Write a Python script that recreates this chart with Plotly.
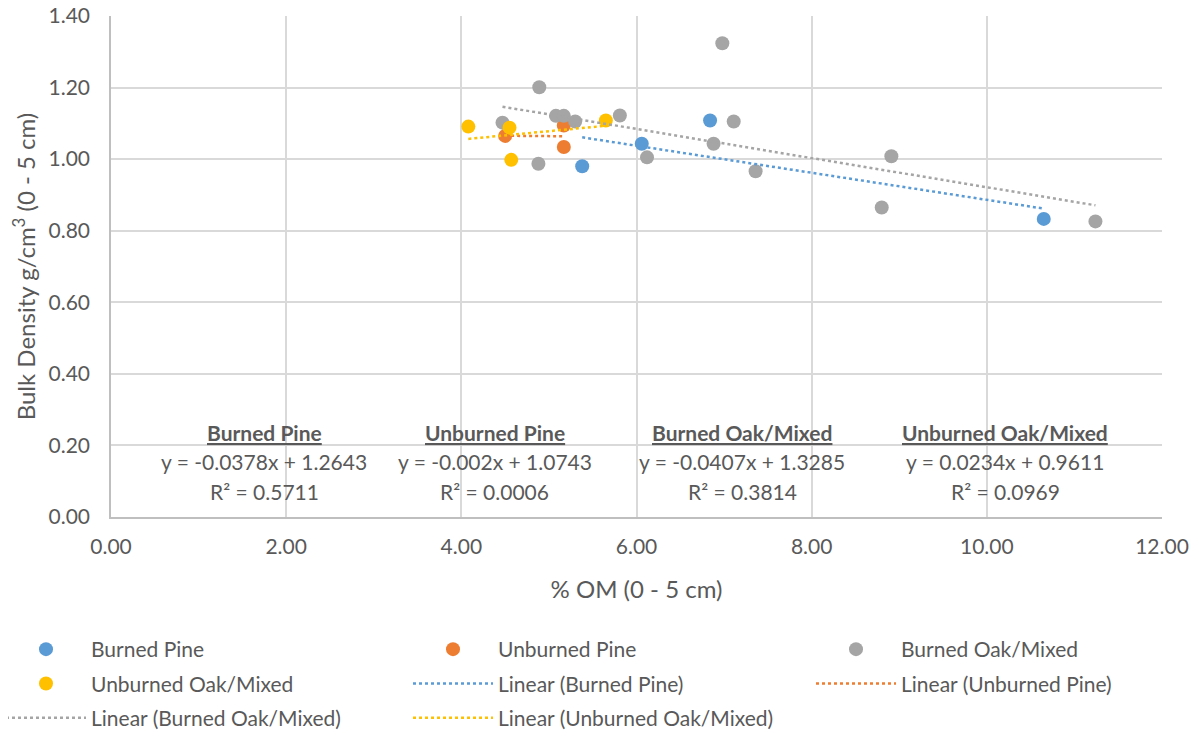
import plotly.graph_objects as go

series_names = ["Burned Pine", "Unburned Pine", "Burned Oak/Mixed", "Unburned Oak/Mixed"]
colors = ["#5B9BD5", "#ED7D31", "#A5A5A5", "#FFC000"]

bp_x = [5.38, 6.06, 6.84, 10.65]
bp_y = [0.980, 1.043, 1.108, 0.833]
up_x = [4.50, 5.17, 5.17]
up_y = [1.065, 1.094, 1.034]
bom_x = [4.89, 4.47, 5.08, 5.17, 5.30, 5.81, 4.88, 6.12, 6.98, 7.11, 6.88, 7.36, 8.91, 8.80, 11.24]
bom_y = [1.201, 1.102, 1.121, 1.121, 1.105, 1.122, 0.987, 1.005, 1.324, 1.105, 1.043, 0.966, 1.008, 0.865, 0.826]
uom_x = [4.08, 4.55, 4.57, 5.65]
uom_y = [1.091, 1.088, 0.998, 1.108]

slopes = [-0.0378, -0.002, -0.0407, 0.0234]
intercepts = [1.2643, 1.0743, 1.3285, 0.9611]
eq_labels = ["y = -0.0378x + 1.2643", "y = -0.002x + 1.0743", "y = -0.0407x + 1.3285", "y = 0.0234x + 0.9611"]
r2_labels = ["R² = 0.5711", "R² = 0.0006", "R² = 0.3814", "R² = 0.0969"]
label_x = [1.75, 4.38, 7.21, 10.21]

xs = [bp_x, up_x, bom_x, uom_x]
ys = [bp_y, up_y, bom_y, uom_y]

FONT = "Lato"
TXT = "#595959"

# legend column for each entry (3 columns, Excel-like row-major order)
marker_legend = ["legend", "legend2", "legend3", "legend"]
marker_rank = [1, 1, 1, 2]
line_legend = ["legend2", "legend3", "legend", "legend2"]
line_rank = [2, 2, 3, 3]

fig = go.Figure()
for i in range(4):
    fig.add_trace(go.Scatter(x=xs[i], y=ys[i], mode="markers", name=series_names[i],
                             marker=dict(color=colors[i], size=14), legend=marker_legend[i],
                             legendrank=marker_rank[i], legendgroup=f"m{i}"))
for i in range(4):
    x0, x1 = min(xs[i]), max(xs[i])
    fig.add_trace(go.Scatter(x=[x0, x1], y=[slopes[i] * x0 + intercepts[i], slopes[i] * x1 + intercepts[i]],
                             mode="lines", name=f"Linear ({series_names[i]})",
                             line=dict(color=colors[i], width=2.5, dash="dot"), legend=line_legend[i],
                             legendrank=line_rank[i], legendgroup=f"l{i}"))

for i in range(4):
    fig.add_annotation(x=label_x[i], y=0.2375, xref="x", yref="y", showarrow=False,
                       text=f"<b><u>{series_names[i]}</u></b>", font=dict(size=21, color=TXT, family=FONT))
    fig.add_annotation(x=label_x[i], y=0.1565, xref="x", yref="y", showarrow=False,
                       text=eq_labels[i], font=dict(size=21, color=TXT, family=FONT))
    fig.add_annotation(x=label_x[i], y=0.0726, xref="x", yref="y", showarrow=False,
                       text=r2_labels[i], font=dict(size=21, color=TXT, family=FONT))

L, R, T, B = 103, 45, 8, 227
W, H = 1199, 736
pw = W - L - R
ph = H - T - B


def px2x(px):
    return (px - L) / pw


def py2y(py):
    return (H - B - py) / ph


leg_common = dict(orientation="v", xanchor="left", yanchor="top", itemwidth=80, tracegroupgap=4,
                  font=dict(size=21, color=TXT, family=FONT), bgcolor="rgba(0,0,0,0)")
fig.update_layout(
    width=W, height=H,
    margin=dict(l=L, r=R, t=T, b=B, autoexpand=False),
    paper_bgcolor="white", plot_bgcolor="white",
    font=dict(family=FONT, color=TXT),
    xaxis=dict(range=[0, 12], dtick=2, tickformat=".2f", showgrid=True, gridcolor="#D9D9D9", gridwidth=1.5,
               zeroline=False, showline=True, linecolor="#BFBFBF", linewidth=1.5,
               tickfont=dict(size=21, color=TXT), ticklabelstandoff=10, ticklabeloverflow="allow",
               title=dict(text="% OM (0 - 5 cm)", font=dict(size=24, color=TXT), standoff=24)),
    yaxis=dict(range=[0, 1.4], dtick=0.2, tickformat=".2f", showgrid=True, gridcolor="#D9D9D9", gridwidth=1.5,
               zeroline=False, showline=True, linecolor="#BFBFBF", linewidth=1.5,
               tickfont=dict(size=21, color=TXT), ticklabelstandoff=15, ticklabeloverflow="allow",
               title=dict(text="Bulk Density g/cm<sup>3</sup> (0 - 5 cm)", font=dict(size=24, color=TXT), standoff=10)),
    legend=dict(x=px2x(-7), y=py2y(621), **leg_common),
    legend2=dict(x=px2x(400), y=py2y(621), **leg_common),
    legend3=dict(x=px2x(803), y=py2y(621), **leg_common),
)
fig.write_html("out.html")
